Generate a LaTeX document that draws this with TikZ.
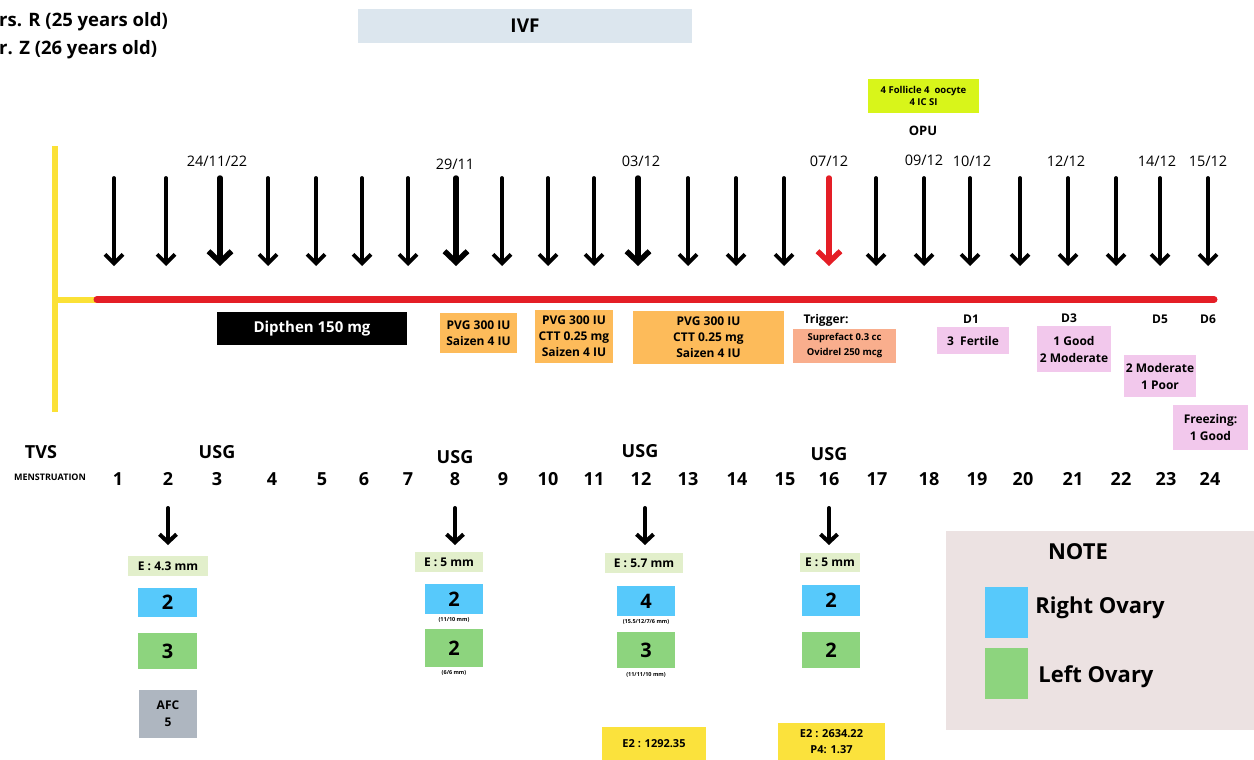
\documentclass[tikz,border=0pt]{standalone}
\usepackage{fontspec}
\setmainfont{Open Sans}
\usetikzlibrary{arrows.meta}
\definecolor{ivfbg}{HTML}{DCE6EE}
\definecolor{limey}{HTML}{D8F51A}
\definecolor{orng}{HTML}{FDBB5A}
\definecolor{salmon}{HTML}{F9AE8D}
\definecolor{pinkb}{HTML}{F2C8EC}
\definecolor{lgreen}{HTML}{E2EFCB}
\definecolor{bluebx}{HTML}{57C9FB}
\definecolor{greenbx}{HTML}{8DD47E}
\definecolor{greybx}{HTML}{AEB6C0}
\definecolor{yelbx}{HTML}{FBE23C}
\definecolor{notebg}{HTML}{ECE2E2}
\definecolor{redl}{HTML}{E41E26}
\definecolor{yell}{HTML}{FBE136}
\newcommand\fsz[2]{\fontsize{#1}{#2}\selectfont}
\tikzset{
  bx/.style={inner sep=0pt, align=center, font=\bfseries},
  lbl/.style={inner sep=0pt, align=center},
  thinarr/.style={line width=3.8pt, line cap=round, -{Straight Barb[length=9pt,width=18pt,line width=3.8pt]}},
  thickarr/.style={line width=5.5pt, line cap=round, -{Straight Barb[length=11pt,width=23pt,line width=5.5pt]}},
  redarr/.style={thickarr, draw=redl},
  botarr/.style={line width=4pt, line cap=round, -{Straight Barb[length=8pt,width=17pt,line width=4pt]}},
}
\begin{document}
\begin{tikzpicture}[x=1pt,y=-1pt]
\useasboundingbox (0,0) rectangle (1254,760);
% header
\node[lbl, anchor=west, font=\bfseries\fsz{18.5}{22}] (mrs) at (-1,22) {rs. R (25 years old)};
\node[lbl, anchor=west, font=\bfseries\fsz{18.5}{22}] (mr) at (-1,50) {r. Z (26 years old)};
\node[bx, fill=ivfbg, minimum width=334, minimum height=34, font=\bfseries\fsz{19}{22}] (ivf) at (525,26) {IVF};
\node[bx, fill=limey, minimum width=111, minimum height=34, font=\bfseries\fsz{9.5}{12}] (foll) at (923.5,96) {4 Follicle 4\ \ oocyte\\4 IC SI};
\node[lbl, font=\bfseries\fsz{13}{15}] (opu) at (923,131) {OPU};
% dates
\foreach \n/\x/\y/\t in {d1/217/161/24\slash 11\slash 22, d2/455/164/29\slash 11, d3/641/161/03\slash 12, d4/829/161/07\slash 12, d5/924/160/09\slash 12, d6/972/161/10\slash 12, d7/1066/161/12\slash 12, d8/1157/161/14\slash 12, d9/1208/161/15\slash 12}
  \node[lbl, font=\fsz{14.5}{16}] (\n) at (\x,\y) {\t};
% timeline
\coordinate (yt) at (55,146);
\coordinate (yb) at (55,412);
\coordinate (ym) at (55,299.5);
\coordinate (rs) at (97,299.5);
\coordinate (re) at (1214,299.5);
\draw[yell, line width=6pt] (yt) -- (yb);
\draw[yell, line width=6pt] (ym) -- (rs);
\draw[redl, line width=7pt, line cap=round] (rs) -- (re);
% arrows
\foreach \i/\x in {1/114,2/166,4/268,5/316,6/362,7/408,9/502,10/548,11/594,13/688,14/736,15/784,17/876,18/924,19/970,20/1020,21/1068,22/1116,23/1160,24/1208}{
  \coordinate (at\i) at (\x,178);
  \coordinate (ab\i) at (\x,266);
  \draw[thinarr] (at\i) -- (ab\i);
}
\foreach \i/\x in {3/220,8/456,12/638}{
  \coordinate (at\i) at (\x,178);
  \coordinate (ab\i) at (\x,266);
  \draw[thickarr] (at\i) -- (ab\i);
}
\coordinate (at16) at (829,178);
\coordinate (ab16) at (829,266);
\draw[redarr] (at16) -- (ab16);
% medication boxes
\node[bx, fill=black, text=white, minimum width=190, minimum height=33, font=\bfseries\fsz{15}{18}] (dip) at (312,328.5) {Dipthen 150 mg};
\node[bx, fill=orng, minimum width=77, minimum height=40, font=\bfseries\fsz{12}{16}] (pvg1) at (478.5,333) {PVG 300 IU\\Saizen 4 IU};
\node[bx, fill=orng, minimum width=78, minimum height=53, font=\bfseries\fsz{12}{16}] (pvg2) at (574,336.5) {PVG 300 IU\\CTT 0.25 mg\\Saizen 4 IU};
\node[bx, fill=orng, minimum width=151, minimum height=53, font=\bfseries\fsz{12}{16}] (pvg3) at (708.5,337.5) {PVG 300 IU\\CTT 0.25 mg\\Saizen 4 IU};
\node[lbl, font=\bfseries\fsz{12}{14}] (trig) at (826,320) {Trigger:};
\node[bx, fill=salmon, minimum width=103, minimum height=34, font=\bfseries\fsz{9.5}{15}] (sup) at (844.5,346) {Suprefact 0.3 cc\\Ovidrel 250 mcg};
% embryo
\node[lbl, font=\bfseries\fsz{12}{14}] (D1) at (971,319) {D1};
\node[lbl, font=\bfseries\fsz{12}{14}] (D3) at (1069,318) {D3};
\node[lbl, font=\bfseries\fsz{12}{14}] (D5) at (1160,319) {D5};
\node[lbl, font=\bfseries\fsz{12}{14}] (D6) at (1208,319) {D6};
\node[bx, fill=pinkb, minimum width=72, minimum height=27, font=\bfseries\fsz{12}{17}] (p1) at (973,340.5) {3\ \ Fertile};
\node[bx, fill=pinkb, minimum width=74, minimum height=46, font=\bfseries\fsz{12}{17}] (p2) at (1074,349) {1 Good\\2 Moderate};
\node[bx, fill=pinkb, minimum width=72, minimum height=42, font=\bfseries\fsz{12}{17}] (p3) at (1160,376) {2 Moderate\\1 Poor};
\node[bx, fill=pinkb, minimum width=75, minimum height=45, font=\bfseries\fsz{12}{17}] (p4) at (1210.5,427.5) {Freezing:\\1 Good};
% row labels
\node[lbl, font=\bfseries\fsz{18}{20}] (tvs) at (41,452) {TVS};
\node[lbl, font=\bfseries\fsz{9}{10}] (men) at (50,477) {MENSTRUATION};
\node[lbl, font=\bfseries\fsz{18}{20}] (usg1) at (217,452) {USG};
\node[lbl, font=\bfseries\fsz{18}{20}] (usg2) at (455,457) {USG};
\node[lbl, font=\bfseries\fsz{18}{20}] (usg3) at (640,451) {USG};
\node[lbl, font=\bfseries\fsz{18}{20}] (usg4) at (829,454) {USG};
\foreach \i/\x in {1/118,2/168,3/217,4/272,5/322,6/364,7/408,8/455,9/503,10/548,11/594,12/641,13/688,14/737,15/785,16/829,17/877,18/929,19/977,20/1023,21/1073,22/1121,23/1166,24/1210}
  \node[lbl, font=\bfseries\fsz{18}{20}] (n\i) at (\x,479) {\i};
% lower arrows
\foreach \i/\x in {1/168,2/455,3/645,4/829}{
  \coordinate (bt\i) at (\x,508);
  \coordinate (bb\i) at (\x,545);
  \draw[botarr] (bt\i) -- (bb\i);
}
% USG columns
\node[bx, fill=lgreen, minimum width=80, minimum height=20, font=\bfseries\fsz{12}{14}] (e1) at (168,566) {E : 4.3 mm};
\node[bx, fill=bluebx, minimum width=59, minimum height=29, font=\bfseries\fsz{20}{22}] (r1) at (167.5,602.5) {2};
\node[bx, fill=greenbx, minimum width=59, minimum height=36, font=\bfseries\fsz{20}{22}] (l1) at (167.5,651) {3};
\node[bx, fill=greybx, minimum width=58, minimum height=48, font=\bfseries\fsz{12}{17}] (afc) at (168,714) {AFC\\5};

\node[bx, fill=lgreen, minimum width=68, minimum height=20, font=\bfseries\fsz{12}{14}] (e2) at (449,562) {E : 5 mm};
\node[bx, fill=bluebx, minimum width=58, minimum height=30, font=\bfseries\fsz{20}{22}] (r2) at (454,599) {2};
\node[lbl, font=\bfseries\fsz{5.5}{6}] (r2m) at (454,619.5) {(11/10 mm)};
\node[bx, fill=greenbx, minimum width=58, minimum height=38, font=\bfseries\fsz{20}{22}] (l2) at (454,648) {2};
\node[lbl, font=\bfseries\fsz{5.5}{6}] (l2m) at (454,673) {(6/6 mm)};

\node[bx, fill=lgreen, minimum width=78, minimum height=20, font=\bfseries\fsz{12}{14}] (e3) at (644,563) {E : 5.7 mm};
\node[bx, fill=bluebx, minimum width=58, minimum height=30, font=\bfseries\fsz{20}{22}] (r3) at (646,601) {4};
\node[lbl, font=\bfseries\fsz{5.5}{6}] (r3m) at (646,621.5) {(15.5/12/7/6 mm)};
\node[bx, fill=greenbx, minimum width=58, minimum height=36, font=\bfseries\fsz{20}{22}] (l3) at (646,650) {3};
\node[lbl, font=\bfseries\fsz{5.5}{6}] (l3m) at (646,674.5) {(11/11/10 mm)};

\node[bx, fill=lgreen, minimum width=60, minimum height=19, font=\bfseries\fsz{12}{14}] (e4) at (830,562.5) {E : 5 mm};
\node[bx, fill=bluebx, minimum width=58, minimum height=31, font=\bfseries\fsz{20}{22}] (r4) at (831,600.5) {2};
\node[bx, fill=greenbx, minimum width=58, minimum height=36, font=\bfseries\fsz{20}{22}] (l4) at (831,650) {2};

\node[bx, fill=yelbx, minimum width=104, minimum height=33, font=\bfseries\fsz{11}{16}] (e2a) at (654,743.5) {E2 : 1292.35};
\node[bx, fill=yelbx, minimum width=107, minimum height=37, font=\bfseries\fsz{11}{16}] (e2b) at (831.5,741.5) {E2 : 2634.22\\P4: 1.37};
% note
\node[fill=notebg, inner sep=0pt, minimum width=308, minimum height=199] (note) at (1100,630.5) {};
\node[lbl, font=\bfseries\fsz{22}{24}] (notet) at (1078,552) {NOTE};
\node[fill=bluebx, inner sep=0pt, minimum width=43, minimum height=51] (lgb) at (1006.5,612.5) {};
\node[lbl, font=\bfseries\fsz{22}{24}] (lgbt) at (1100,608) {Right Ovary};
\node[fill=greenbx, inner sep=0pt, minimum width=43, minimum height=51] (lgg) at (1006.5,673.5) {};
\node[lbl, font=\bfseries\fsz{22}{24}] (lggt) at (1096,677) {Left Ovary};
\end{tikzpicture}
\end{document}
